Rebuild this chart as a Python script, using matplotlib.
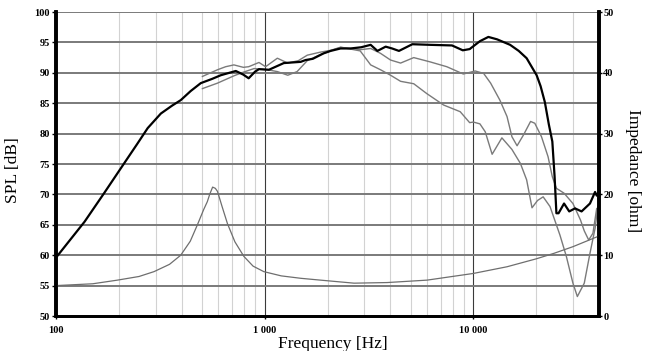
import matplotlib
matplotlib.use("Agg")
import matplotlib.pyplot as plt
from matplotlib.ticker import FixedLocator, NullFormatter

# ---------------- data ----------------
spl_freq = [100, 137, 170, 212, 245, 275, 318, 360, 396, 442, 494, 560, 616, 727, 790, 838,
            900, 939, 1048, 1235, 1488, 1570, 1700, 1916, 2070, 2310, 2577, 2900, 3220, 3470,
            3800, 4080, 4400, 5100, 6200, 7900, 8900, 9600, 10750, 11800, 13000, 15000, 16500,
            18000, 20100, 21000, 22000, 23000, 23900, 24500, 25000, 25600, 27200, 28800, 30700,
            33000, 36200, 38300, 39000, 40000]
spl_db = [59.6, 65.5, 70.2, 75.1, 78.3, 80.9, 83.3, 84.6, 85.5, 87.0, 88.3, 89.0, 89.6, 90.3,
          89.7, 89.1, 90.2, 90.6, 90.5, 91.6, 91.8, 92.1, 92.3, 93.2, 93.6, 94.0, 94.0, 94.2,
          94.6, 93.6, 94.3, 94.0, 93.6, 94.7, 94.6, 94.5, 93.7, 93.9, 95.2, 95.9, 95.5, 94.6,
          93.6, 92.4, 89.6, 87.8, 85.2, 81.5, 78.7, 73.0, 66.9, 66.9, 68.5, 67.2, 67.7, 67.2,
          68.5, 70.4, 69.8, 70.5]

off1_freq = [503, 594, 650, 712, 790, 838, 939, 1010, 1150, 1290, 1450, 1600, 1850, 2070, 2310,
             2580, 2870, 3220, 3590, 4010, 4480, 5180, 6200, 7460, 8950, 10200, 11200, 12100,
             13400, 14500, 15300, 16200, 17400, 18800, 19700, 21200, 22800, 23900, 25000,
             27200, 30000, 32600, 34000, 35700, 37400, 39000, 40000]
off1_db = [89.4, 90.5, 91.0, 91.3, 90.9, 91.0, 91.7, 91.0, 92.4, 91.6, 92.0, 92.9, 93.4, 93.7,
           94.2, 94.0, 93.8, 94.0, 93.2, 92.1, 91.6, 92.5, 91.8, 91.0, 89.8, 90.3, 89.9, 88.3,
           85.5, 82.8, 79.5, 78.0, 79.8, 82.0, 81.7, 79.5, 76.2, 72.9, 71.0, 70.2, 68.5, 65.8,
           64.0, 62.5, 63.6, 67.7, 64.0]

off2_freq = [503, 594, 712, 790, 890, 1030, 1150, 1290, 1430, 1600, 1850, 2070, 2310, 2580, 2870,
             3220, 3590, 4010, 4480, 5180, 5970, 7200, 8650, 9600, 10000, 10750, 11400, 12300,
             13700, 15300, 16800, 18000, 19100, 20300, 21600, 23300, 26000, 27900, 30000, 31500,
             34000, 36200, 38300, 39500, 40000]
off2_db = [87.4, 88.3, 89.5, 90.1, 90.7, 90.5, 90.2, 89.6, 90.2, 92.0, 93.0, 93.6, 94.2, 93.9,
           93.6, 91.3, 90.5, 89.6, 88.6, 88.2, 86.6, 84.7, 83.6, 81.8, 81.9, 81.6, 80.3, 76.6,
           79.3, 77.4, 75.1, 72.4, 67.8, 69.0, 69.6, 68.0, 63.3, 59.8, 55.4, 53.2, 55.4, 60.3,
           64.4, 68.0, 66.0]

imp_freq = [100, 150, 197, 250, 295, 350, 396, 440, 476, 510, 531, 545, 563, 580, 594, 625, 663,
            720, 795, 880, 990, 1200, 1490, 1850, 2680, 3860, 6000, 10000, 14500, 20000, 24300,
            30000, 39000, 40000]
imp_ohm = [5.0, 5.3, 5.9, 6.5, 7.3, 8.5, 10.0, 12.3, 15.0, 17.5, 18.8, 20.0, 21.2, 21.0, 20.5,
           18.0, 15.2, 12.2, 9.8, 8.2, 7.3, 6.6, 6.2, 5.9, 5.4, 5.5, 5.9, 7.0, 8.1, 9.4, 10.3,
           11.4, 13.0, 13.2]

x_major = [100, 1000, 10000]
x_major_labels = ["100", "1 000", "10 000"]
x_minor = [200, 300, 400, 500, 600, 700, 800, 900,
           2000, 3000, 4000, 5000, 6000, 7000, 8000, 9000, 20000, 30000]
spl_ticks = [50, 55, 60, 65, 70, 75, 80, 85, 90, 95, 100]
imp_ticks = [0, 10, 20, 30, 40, 50]

# ---------------- figure ----------------
serif = ["Liberation Serif", "DejaVu Serif"]
fig = plt.figure(figsize=(6.53, 3.51), dpi=100)
ax = fig.add_axes([56 / 653, 1 - 316 / 351, (599 - 56) / 653, (316 - 12) / 351])
ax.set_xscale("log")
ax.set_xlim(100, 40000)
ax.set_ylim(50, 100)

# grid
for f in x_minor:
    ax.axvline(f, color="#d2d2d2", lw=0.8, zorder=0)
for f in x_major[1:]:
    ax.axvline(f, color="#3a3a3a", lw=0.8, zorder=0)
for v in spl_ticks[1:]:
    ax.axhline(v, color="#7a7a7a", lw=1.4, zorder=0.5)

ax.xaxis.set_major_locator(FixedLocator(x_major))
ax.set_xticklabels(x_major_labels)
ax.xaxis.set_minor_locator(FixedLocator(x_minor))
ax.xaxis.set_minor_formatter(NullFormatter())
ax.tick_params(axis="x", which="minor", length=0)
ax.tick_params(axis="x", which="major", length=2, width=1, pad=5)
ax.set_yticks(spl_ticks)
ax.tick_params(axis="y", length=3, width=1, pad=1.5)

for lab in ax.get_xticklabels() + ax.get_yticklabels():
    lab.set_fontfamily(serif)
    lab.set_fontweight("bold")
    lab.set_fontsize(7.5)

# curves
ax.plot(off1_freq, off1_db, color="#7a7a7a", lw=1.0, zorder=2)
ax.plot(off2_freq, off2_db, color="#7a7a7a", lw=1.0, zorder=2)
ax.plot(spl_freq, spl_db, color="black", lw=1.6, zorder=3)

ax2 = ax.twinx()
ax2.set_ylim(0, 50)
ax2.set_yticks(imp_ticks)
ax2.tick_params(axis="y", length=2, width=1, pad=1)
for lab in ax2.get_yticklabels():
    lab.set_fontfamily(serif)
    lab.set_fontweight("bold")
    lab.set_fontsize(7.5)
ax2.plot(imp_freq, imp_ohm, color="#6e6e6e", lw=0.9, zorder=2)

# spines
for a in (ax, ax2):
    a.spines["top"].set_visible(False)
    a.spines["left"].set_linewidth(2.6)
    a.spines["right"].set_linewidth(2.6)
    a.spines["bottom"].set_linewidth(2.0)

# labels
ax.set_xlabel("Frequency [Hz]", fontfamily=serif, fontsize=12.5)
ax.xaxis.set_label_coords(0.51, -0.065)
ax.set_ylabel("SPL [dB]", fontfamily=serif, fontsize=12.5, va="center")
ax.yaxis.set_label_coords(-0.079, 0.48)
ax2.set_ylabel("Impedance [ohm]", fontfamily=serif, fontsize=12.5, rotation=270, va="center")
ax2.yaxis.set_label_coords(1.062, 0.48)

fig.savefig("out.png", dpi=100)
